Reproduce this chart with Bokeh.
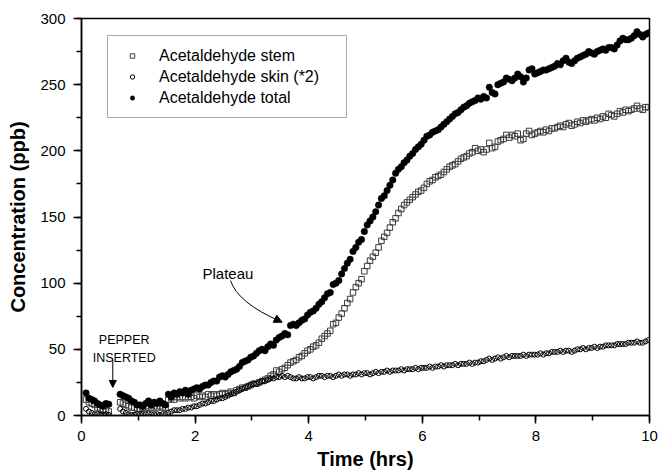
from bokeh.plotting import figure
from bokeh.models import (Range1d, SingleIntervalTicker, Legend, LegendItem, Label,
                          Arrow, NormalHead, ColumnDataSource)
from bokeh.embed import file_html
from bokeh.resources import INLINE

# ---------------- data ----------------
TIME_HRS = [
    0.08, 0.13, 0.18, 0.23, 0.28, 0.33, 0.38, 0.43, 0.48,
    0.68, 0.73, 0.78, 0.83, 0.88, 0.93, 0.98, 1.03, 1.08, 1.13,
    1.18, 1.23, 1.28, 1.33, 1.38, 1.43, 1.48, 1.53, 1.58, 1.63,
    1.68, 1.73, 1.78, 1.83, 1.88, 1.93, 1.98, 2.03, 2.08, 2.13,
    2.18, 2.23, 2.28, 2.33, 2.38, 2.43, 2.48, 2.53, 2.58, 2.63,
    2.68, 2.73, 2.78, 2.83, 2.88, 2.93, 2.98, 3.03, 3.08, 3.13,
    3.18, 3.23, 3.28, 3.33, 3.38, 3.43, 3.48, 3.53, 3.58, 3.63,
    3.68, 3.73, 3.78, 3.83, 3.88, 3.93, 3.98, 4.03, 4.08, 4.13,
    4.18, 4.23, 4.28, 4.33, 4.38, 4.43, 4.48, 4.53, 4.58, 4.63,
    4.68, 4.73, 4.78, 4.83, 4.88, 4.93, 4.98, 5.03, 5.08, 5.13,
    5.18, 5.23, 5.28, 5.33, 5.38, 5.43, 5.48, 5.53, 5.58, 5.63,
    5.68, 5.73, 5.78, 5.83, 5.88, 5.93, 5.98, 6.03, 6.08, 6.13,
    6.18, 6.23, 6.28, 6.33, 6.38, 6.43, 6.48, 6.53, 6.58, 6.63,
    6.68, 6.73, 6.78, 6.83, 6.88, 6.93, 6.98, 7.03, 7.08, 7.13,
    7.18, 7.23, 7.28, 7.33, 7.38, 7.43, 7.48, 7.53, 7.58, 7.63,
    7.68, 7.73, 7.78, 7.83, 7.88, 7.93, 7.98, 8.03, 8.08, 8.13,
    8.18, 8.23, 8.28, 8.33, 8.38, 8.43, 8.48, 8.53, 8.58, 8.63,
    8.68, 8.73, 8.78, 8.83, 8.88, 8.93, 8.98, 9.03, 9.08, 9.13,
    9.18, 9.23, 9.28, 9.33, 9.38, 9.43, 9.48, 9.53, 9.58, 9.63,
    9.68, 9.73, 9.78, 9.83, 9.88, 9.93, 9.98,
]

STEM_PPB = [
    12, 10, 9, 8, 6, 5, 4, 4, 3,
    10, 9, 8, 7, 6, 6, 5, 5, 6, 6,
    7, 6, 7, 6, 7, 6, 6, 12, 13, 12,
    14, 13, 14, 13, 14, 14, 13, 15, 14, 15,
    14, 16, 15, 16, 15, 16, 17, 16, 17, 18,
    17, 19, 20, 21, 21, 22, 23, 24, 24, 25,
    26, 27, 28, 30, 31, 34, 33, 35, 36, 38,
    40, 41, 42, 44, 45, 47, 49, 50, 52, 53,
    55, 58, 60, 62, 64, 69, 70, 74, 77, 81,
    85, 88, 93, 97, 100, 103, 109, 113, 117, 120,
    123, 127, 132, 135, 138, 142, 146, 149, 153, 156,
    159, 161, 163, 165, 167, 169, 170, 172, 175, 177,
    178, 180, 181, 182, 184, 186, 188, 189, 190, 192,
    194, 195, 196, 198, 199, 202, 200, 201, 199, 201,
    206, 202, 203, 207, 208, 209, 212, 210, 212, 211,
    213, 208, 209, 213, 215, 212, 213, 214, 215, 214,
    216, 215, 217, 217, 218, 219, 218, 220, 221, 219,
    220, 222, 221, 223, 222, 223, 224, 223, 225, 224,
    226, 225, 228, 227, 226, 228, 230, 229, 231, 230,
    231, 232, 234, 232, 231, 233, 233,
]

SKIN_X2_PPB = [
    5, 3, 2, 1, 1, 0.5, 0.5, 1, 0.5,
    5, 3, 2, 1, 0.5, 0.5, 1, 1, 1, 1,
    1.5, 1, 1, 1, 0.5, 1, 1, 2, 3, 4,
    4, 4, 5, 5, 6, 6, 7, 7, 8, 9,
    9, 10, 11, 11, 12, 13, 13, 14, 15, 16,
    17, 18, 19, 20, 21, 22, 23, 24, 24, 25,
    26, 26, 27, 28, 28, 29, 29, 30, 29, 30,
    29, 28, 28, 29, 28, 28, 29, 29, 28, 29,
    30, 30, 29, 30, 30, 29, 30, 31, 30, 31,
    31, 30, 31, 31, 32, 31, 32, 32, 31, 32,
    33, 32, 33, 33, 34, 33, 34, 34, 34, 35,
    34, 35, 35, 35, 36, 35, 36, 36, 36, 37,
    36, 37, 37, 38, 37, 38, 38, 38, 39, 38,
    39, 39, 39, 40, 39, 40, 40, 41, 41, 42,
    43, 42, 43, 44, 43, 44, 45, 44, 45, 45,
    45, 45, 46, 45, 46, 46, 46, 46, 47, 46,
    47, 47, 48, 48, 48, 49, 48, 49, 49, 48,
    49, 50, 50, 51, 50, 51, 51, 52, 51, 52,
    52, 53, 53, 53, 53, 54, 54, 54, 54, 55,
    55, 55, 56, 55, 55, 56, 57,
]

TOTAL_PPB = [
    17, 13, 12, 11, 9, 8, 7, 9, 8.5,
    16, 15, 14, 13, 11, 10, 8, 8, 7, 9,
    11, 8, 10, 9, 11, 9, 8, 16, 14, 17,
    16, 18, 17, 19, 16, 19, 20, 21, 20, 22,
    23, 23, 25, 26, 26, 29, 30, 29, 31, 33,
    34, 35, 37, 40, 41, 42, 44, 45, 47, 49,
    50, 49, 52, 54, 53, 57, 59, 60, 62, 61,
    68, 69, 68, 70, 72, 73, 76, 78, 79, 81,
    84, 86, 89, 92, 93, 99, 100, 102, 107, 111,
    115, 118, 124, 127, 131, 133, 139, 144, 147, 150,
    154, 159, 164, 166, 170, 174, 178, 183, 186, 188,
    191, 193, 196, 198, 201, 203, 205, 208, 211, 212,
    214, 215, 216, 218, 220, 222, 224, 226, 228, 229,
    231, 233, 234, 236, 237, 238, 240, 239, 241, 240,
    248, 244, 243, 250, 251, 252, 255, 254, 253, 255,
    258, 256, 252, 255, 261, 262, 258, 259, 260, 261,
    261, 262, 263, 264, 266, 265, 268, 270, 267, 266,
    268, 270, 271, 272, 273, 275, 274, 273, 275, 276,
    277, 276, 278, 278, 277, 280, 283, 285, 284, 284,
    285, 287, 290, 288, 286, 288, 289,
]

SERIES_LABELS = ["Acetaldehyde stem", "Acetaldehyde skin (*2)", "Acetaldehyde total"]
X_TICKS = [0, 2, 4, 6, 8, 10]
Y_TICKS = [0, 50, 100, 150, 200, 250, 300]

assert len(TIME_HRS) == len(STEM_PPB) == len(SKIN_X2_PPB) == len(TOTAL_PPB), (
    len(TIME_HRS), len(STEM_PPB), len(SKIN_X2_PPB), len(TOTAL_PPB))

FONT = "Liberation Sans"

src = ColumnDataSource(dict(t=TIME_HRS, stem=STEM_PPB, skin=SKIN_X2_PPB, total=TOTAL_PPB))

p = figure(width=659, height=475, output_backend="svg", toolbar_location=None,
           x_range=Range1d(X_TICKS[0], X_TICKS[-1]), y_range=Range1d(Y_TICKS[0], Y_TICKS[-1]),
           min_border_left=81, min_border_right=10, min_border_top=18, min_border_bottom=60)
p.background_fill_color = "white"
p.border_fill_color = "white"
p.xgrid.visible = False
p.ygrid.visible = False
p.outline_line_color = "black"
p.outline_line_width = 1.5

p.xaxis.ticker = SingleIntervalTicker(interval=2, num_minor_ticks=2)
p.yaxis.ticker = SingleIntervalTicker(interval=50, num_minor_ticks=2)
for ax in (p.xaxis[0], p.yaxis[0]):
    ax.axis_line_width = 1.5
    ax.axis_line_color = "black"
    ax.major_tick_line_color = "black"
    ax.minor_tick_line_color = "black"
    ax.major_tick_line_width = 1.5
    ax.minor_tick_line_width = 1.5
    ax.major_tick_out = 8
    ax.major_tick_in = 0
    ax.minor_tick_out = 5
    ax.minor_tick_in = 0
    ax.major_label_text_font = FONT
    ax.major_label_text_font_size = "15px"
    ax.major_label_text_color = "black"
    ax.axis_label_text_font = FONT
    ax.axis_label_text_font_size = "20px"
    ax.axis_label_text_font_style = "bold"
    ax.axis_label_text_color = "black"
p.xaxis.axis_label = "Time (hrs)"
p.yaxis.axis_label = "Concentration (ppb)"
p.xaxis.major_label_standoff = 7
p.yaxis.major_label_standoff = 8
p.xaxis.axis_label_standoff = 4
p.yaxis.axis_label_standoff = 8

r_stem = p.scatter("t", "stem", source=src, marker="square", size=5.5,
                   fill_alpha=0, line_color="#3a3a3a", line_width=1)
r_skin = p.scatter("t", "skin", source=src, marker="circle", size=5,
                   fill_alpha=0, line_color="black", line_width=1)
r_total = p.scatter("t", "total", source=src, marker="circle", size=6.5,
                    fill_color="black", line_color="black", line_width=0.5)

legend = Legend(items=[LegendItem(label=SERIES_LABELS[0], renderers=[r_stem]),
                       LegendItem(label=SERIES_LABELS[1], renderers=[r_skin]),
                       LegendItem(label=SERIES_LABELS[2], renderers=[r_total])],
                location=(26, 297), margin=0, padding=9, spacing=0,
                glyph_width=30, glyph_height=11, label_height=21, label_standoff=12,
                label_width=178,
                label_text_font=FONT, label_text_font_size="16px", label_text_color="black",
                border_line_color="#555555", border_line_width=1,
                background_fill_color="white", background_fill_alpha=1)
p.add_layout(legend, "center")

# annotations
p.add_layout(Label(x=2.13, y=107.3, text="Plateau", text_font=FONT, text_font_size="15px",
                   text_color="black", text_baseline="alphabetic", text_align="left"))
p.quadratic(x0=[2.623], y0=[102.0], cx=[2.755], cy=[85.0], x1=[3.50], y1=[71.2],
            line_color="black", line_width=1)
p.add_layout(Arrow(end=NormalHead(size=8, fill_color="black", line_color="black", line_width=1),
                   x_start=3.47, y_start=71.8, x_end=3.533, y_end=70.5,
                   line_color="black", line_width=1))

p.add_layout(Label(x=0.752, y=56.7, text="PEPPER", text_font=FONT, text_font_size="12.5px",
                   text_color="black", text_baseline="alphabetic", text_align="center"))
p.add_layout(Label(x=0.752, y=43.8, text="INSERTED", text_font=FONT, text_font_size="12.5px",
                   text_color="black", text_baseline="alphabetic", text_align="center"))
p.add_layout(Arrow(end=NormalHead(size=7, fill_color="black", line_color="black", line_width=1),
                   x_start=0.551, y_start=42.3, x_end=0.551, y_end=21.2,
                   line_color="black", line_width=1))

open("out.html", "w").write(file_html(p, INLINE))
